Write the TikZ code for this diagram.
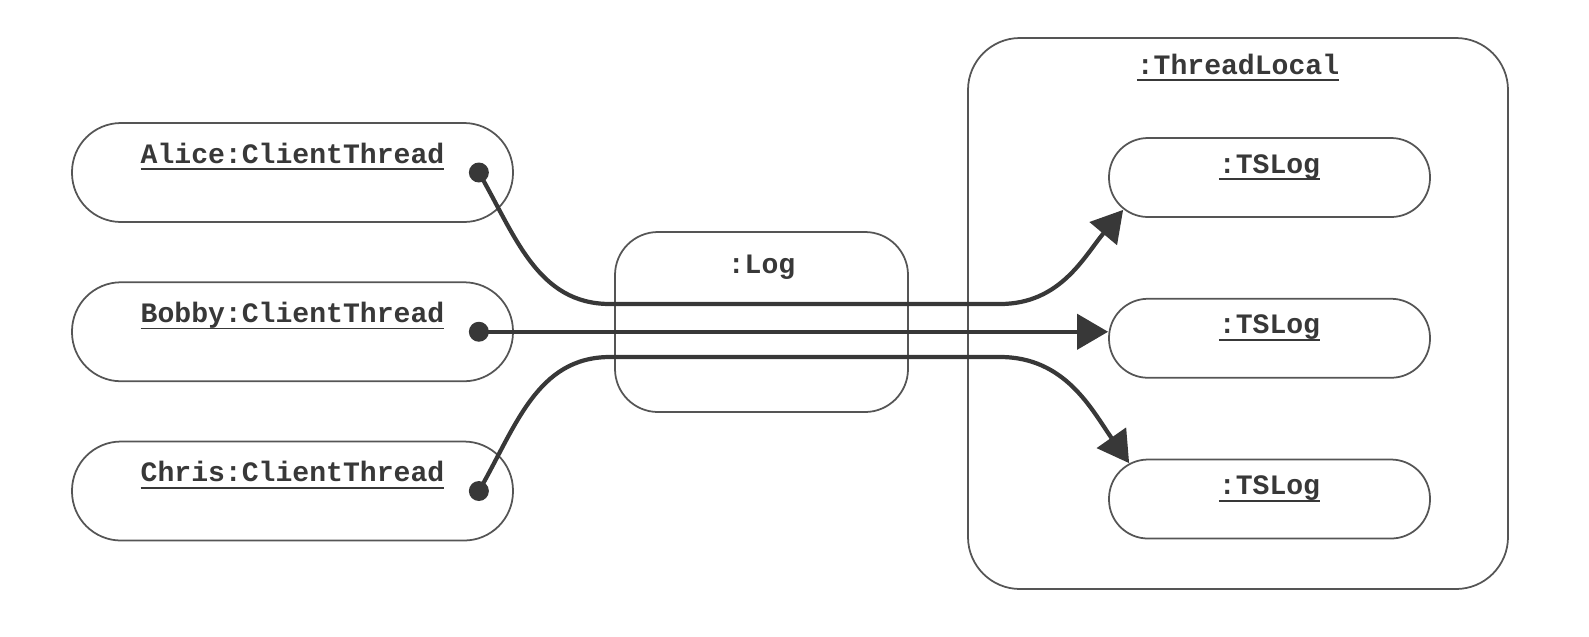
\documentclass[tikz,border=0pt]{standalone}
\usepackage{fontspec}
\setmonofont{Liberation Mono}
\usepackage{tikz}
\usetikzlibrary{positioning}
\usetikzlibrary{arrows.meta}

\definecolor{boxgray}{HTML}{555555}
\definecolor{inkgray}{HTML}{383838}
\newcommand{\objname}[1]{\setbox0\hbox{#1}\rlap{\rule[-0.14cm]{\wd0}{1pt}}\box0}

\begin{document}
\begin{tikzpicture}[
    objbox/.style = {draw=boxgray, line width=1pt, inner sep=0pt, text=inkgray,
                     font=\ttfamily\bfseries\fontsize{16}{19}\selectfont},
    thread/.style = {objbox, rounded corners=0.98cm, minimum width=8.82cm,
                     text height=0.8cm, text depth=1.18cm},
    tslog/.style  = {objbox, rounded corners=0.78cm, minimum width=6.42cm,
                     text height=0.7cm, text depth=0.88cm},
    link/.style   = {draw=inkgray, line width=2.4pt},
    flow/.style   = {link, -{Triangle[length=0.62cm, width=0.7cm]}},
    node distance = 1.17cm]
    \useasboundingbox (0,0) rectangle (31.78,-12.72);

    % draw client threads
    \node[thread] (alice) at (5.85,-3.45) {\objname{Alice:ClientThread}};
    \node[thread, below=of alice] (bobby) {\objname{Bobby:ClientThread}};
    \node[thread, below=of bobby] (chris) {\objname{Chris:ClientThread}};

    % draw log
    \node[objbox, rounded corners=0.86cm, minimum width=5.86cm,
          text height=0.82cm, text depth=2.78cm] (log) at (15.23,-6.44) {:Log};

    % draw thread local with its logs
    \node[objbox, rounded corners=1.04cm, minimum width=10.8cm,
          text height=0.72cm, text depth=10.3cm] (tlocal) at (24.76,-6.27) {\objname{:ThreadLocal}};
    \node[tslog] (ts1) at (25.39,-3.55) {\objname{:TSLog}};
    \node[tslog, below=1.6cm of ts1] (ts2) {\objname{:TSLog}};
    \node[tslog, below=1.6cm of ts2] (ts3) {\objname{:TSLog}};

    % draw dots
    \coordinate (alicedot) at ([xshift=-0.7cm]alice.east);
    \coordinate (bobbydot) at ([xshift=-0.7cm]bobby.east);
    \coordinate (chrisdot) at ([xshift=-0.7cm]chris.east);
    \coordinate (ts1in) at ([xshift=0.3cm,yshift=0.16cm]ts1.south west);
    \coordinate (ts3in) at ([xshift=0.42cm,yshift=-0.09cm]ts3.north west);

    % draw links
    \draw[flow] (alicedot) to[out=-60,in=180] (12.2,-6.08) -- (20,-6.08)
      to[out=0,in=-130] (ts1in);
    \draw[flow] (bobbydot) -- (bobbydot -| ts2.west);
    \draw[flow] (chrisdot) to[out=60,in=180] (12.2,-7.14) -- (20,-7.14)
      to[out=0,in=125] (ts3in);
    \foreach \who in {alicedot,bobbydot,chrisdot}
      \fill[inkgray] (\who) circle (0.2cm);
\end{tikzpicture}
\end{document}
